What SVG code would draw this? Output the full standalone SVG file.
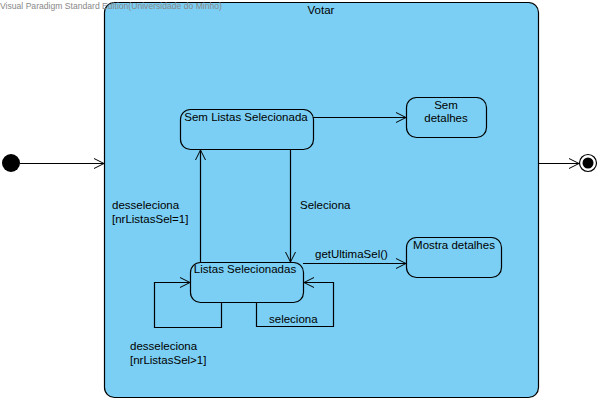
<svg xmlns="http://www.w3.org/2000/svg" width="603" height="401" viewBox="0 0 603 401">
<defs>
<marker id="arr" markerWidth="12" markerHeight="12" refX="11" refY="6" orient="auto" markerUnits="userSpaceOnUse">
<path d="M1,1 L11,6 L1,11" fill="none" stroke="#000" stroke-width="1"/>
</marker>
</defs>
<style>
.st{fill:#7bcff4;stroke:#000;stroke-width:1.2}
.t{font-family:"Liberation Sans",Arial,sans-serif;font-size:11.5px;fill:#000}
.c{fill:none;stroke:#000;stroke-width:1.2}
</style>
<rect width="603" height="401" fill="#fff"/>
<g id="votar">
<rect class="st" x="104.5" y="2.5" width="434" height="395" rx="10"/>
<text class="t" x="321" y="14" text-anchor="middle" font-size="12">Votar</text>
</g>
<text x="0" y="9" font-family="Liberation Sans,Arial,sans-serif" font-size="8.6" fill="#888">Visual Paradigm Standard Edition(Universidade do Minho)</text>
<g id="initial"><circle cx="11" cy="163" r="9" fill="#000"/></g>
<g id="final"><circle cx="588" cy="163" r="8.5" fill="#fff" stroke="#000" stroke-width="1.2"/><circle cx="588" cy="163" r="5.5" fill="#000"/></g>
<g id="semListas">
<rect class="st" x="180.5" y="109.5" width="133" height="40" rx="10"/>
<text class="t" x="246" y="121" text-anchor="middle">Sem Listas Selecionada</text>
</g>
<g id="semDetalhes">
<rect class="st" x="406.5" y="97.5" width="80" height="40" rx="10"/>
<text class="t" x="446" y="109" text-anchor="middle">Sem</text>
<text class="t" x="446" y="122" text-anchor="middle">detalhes</text>
</g>
<g id="listasSel">
<rect class="st" x="190.5" y="262.5" width="113" height="40" rx="10"/>
<text class="t" x="245" y="273" text-anchor="middle">Listas Selecionadas</text>
</g>
<g id="mostraDetalhes">
<rect class="st" x="406.5" y="237.5" width="95" height="40" rx="10"/>
<text class="t" x="454" y="249" text-anchor="middle">Mostra detalhes</text>
</g>
<g id="connectors">
<line class="c" x1="20" y1="163.5" x2="104" y2="163.5" marker-end="url(#arr)"/>
<line class="c" x1="538" y1="163.5" x2="579" y2="163.5" marker-end="url(#arr)"/>
<line class="c" x1="313" y1="117.5" x2="406" y2="117.5" marker-end="url(#arr)"/>
<line class="c" x1="200.5" y1="262" x2="200.5" y2="150" marker-end="url(#arr)"/>
<line class="c" x1="290.5" y1="150" x2="290.5" y2="262" marker-end="url(#arr)"/>
<line class="c" x1="303" y1="263.5" x2="406" y2="263.5" marker-end="url(#arr)"/>
<polyline class="c" points="221.5,303 221.5,327.5 154.5,327.5 154.5,282.5 190,282.5" marker-end="url(#arr)"/>
<polyline class="c" points="256.5,303 256.5,326.5 333.5,326.5 333.5,282.5 304,282.5" marker-end="url(#arr)"/>
<text class="t" x="112" y="209">desseleciona</text>
<text class="t" x="112" y="223">[nrListasSel=1]</text>
<text class="t" x="300" y="209">Seleciona</text>
<text class="t" x="315" y="258">getUltimaSel()</text>
<text class="t" x="269" y="323">seleciona</text>
<text class="t" x="130" y="350">desseleciona</text>
<text class="t" x="130" y="364">[nrListasSel&gt;1]</text>
</g>
</svg>
